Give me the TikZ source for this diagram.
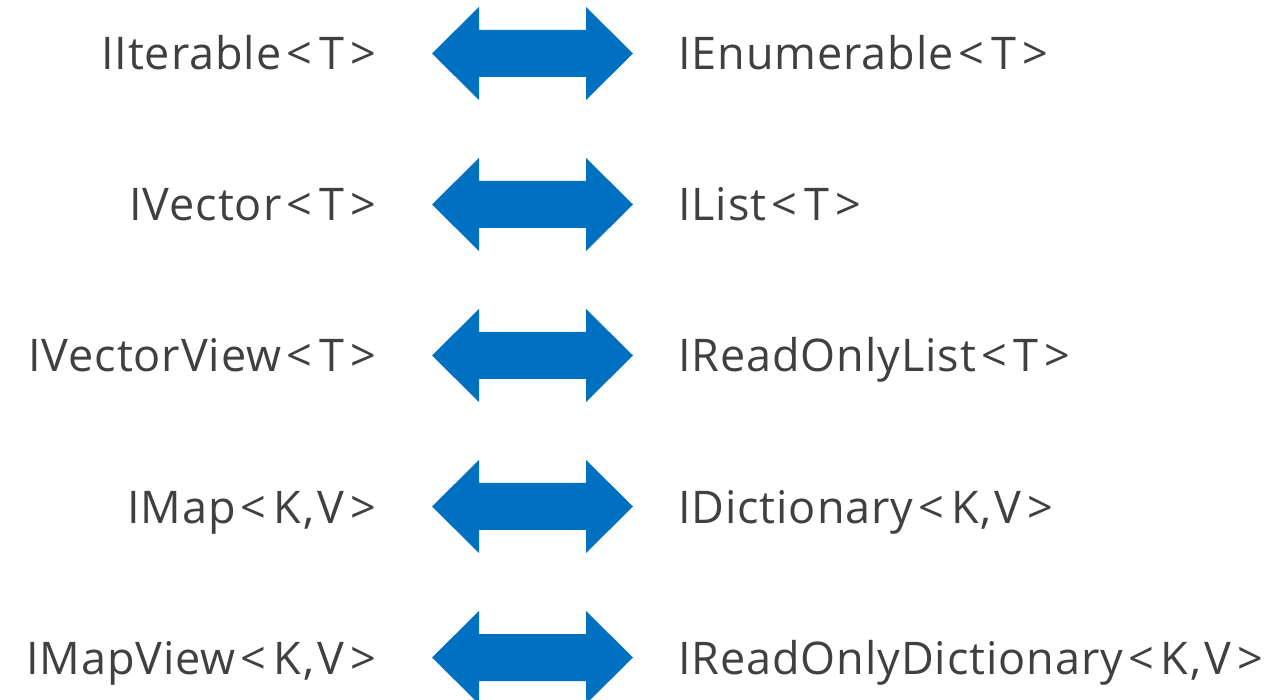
\documentclass[tikz,border=0pt]{standalone}
\usepackage{fontspec}
\setmainfont[LetterSpace=2]{Open Sans}
\usetikzlibrary{calc}
\definecolor{txt}{HTML}{404040}
\definecolor{arrblue}{HTML}{0070C0}
\newcommand{\ltg}{\kern5pt<\kern7pt}
\newcommand{\gtg}{\kern6pt>}
\newcommand{\kv}{K\kern2pt,\kern3pt V}
\begin{document}
\begin{tikzpicture}[x=1pt,y=-1pt,
  lbl/.style={inner sep=0pt, text=txt, font=\fontsize{45}{52}\selectfont},
  lleft/.style={lbl, anchor=base east},
  lright/.style={lbl, anchor=base west},
  fatarrow/.style={fill=arrblue, draw=none}]
\useasboundingbox (0,0) rectangle (1278,700);
\foreach \i/\l/\r in {1/IIterable\ltg T\gtg/IEnumerable\ltg T\gtg,
                      2/IVector\ltg T\gtg/IList\ltg T\gtg,
                      3/IVectorView\ltg T\gtg/IReadOnlyList\ltg T\gtg,
                      4/{IMap\ltg\kv\gtg}/{IDictionary\ltg\kv\gtg},
                      5/{IMapView\ltg\kv\gtg}/{IReadOnlyDictionary\ltg\kv\gtg}}{
  \pgfmathsetmacro{\cy}{53.5+151*(\i-1)}
  \node[lleft] (L\i) at (376,\cy+16.5) {\l};
  \node[lright] (R\i) at (678,\cy+16.5) {\r};
  \coordinate (A\i) at (432,\cy);
  \coordinate (B\i) at (633,\cy);
  \fill[fatarrow] (A\i) -- ++(47,-46.5) -- ++(0,23) -- ($(B\i)+(-47,-23.5)$) -- ++(0,-23) -- (B\i)
     -- ++(-47,46.5) -- ++(0,-23) -- ($(A\i)+(47,23.5)$) -- ++(0,23) -- cycle;
}
\end{tikzpicture}
\end{document}
